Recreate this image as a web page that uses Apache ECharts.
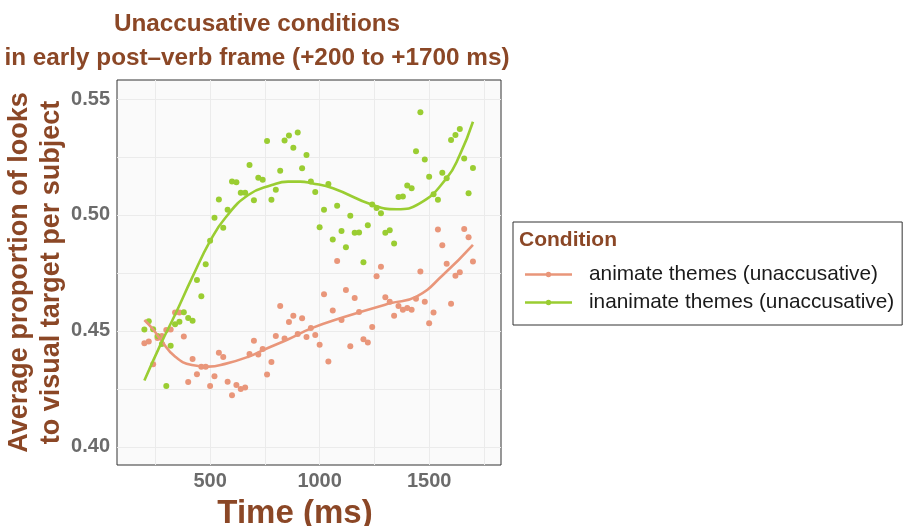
<!DOCTYPE html>
<html><head><meta charset="utf-8">
<script src="https://cdn.jsdelivr.net/npm/echarts@6/dist/echarts.min.js"></script>
<style>html,body{margin:0;padding:0;background:#fff}#c{width:905px;height:526px}</style>
</head><body><div id="c"></div>
<script>
const times = [200,220,240,260,280,300,320,340,360,380,400,420,440,460,480,500,520,540,560,580,
600,620,640,660,680,700,720,740,760,780,800,820,840,860,880,900,920,940,960,980,
1000,1020,1040,1060,1080,1100,1120,1140,1160,1180,1200,1220,1240,1260,1280,1300,1320,1340,1360,1380,
1400,1420,1440,1460,1480,1500,1520,1540,1560,1580,1600,1620,1640,1660,1680,1700];
const animateVals = [0.4447,0.4454,0.4356,0.4470,0.4478,0.4504,0.4506,0.4579,0.4579,0.4476,
0.4280,0.4379,0.4313,0.4346,0.4346,0.4263,0.4305,0.4406,0.4388,0.4281,
0.4223,0.4267,0.4250,0.4256,0.4401,0.4458,0.4398,0.4422,0.4312,0.4366,
0.4478,0.4608,0.4467,0.4539,0.4565,0.4487,0.4555,0.4474,0.4513,0.4483,
0.4440,0.4658,0.4368,0.4588,0.4802,0.4547,0.4677,0.4434,0.4642,0.4582,
0.4464,0.4450,0.4517,0.4736,0.4777,0.4645,0.4626,0.4565,0.4608,0.4591,
0.4599,0.4591,0.4639,0.4756,0.4626,0.4533,0.4579,0.4937,0.4869,0.4790,
0.4617,0.4738,0.4753,0.4940,0.4904,0.4799];
const inanimateVals = [0.4506,0.4542,0.4507,0.4478,0.4444,0.4263,0.4436,0.4529,0.4540,0.4581,
0.4556,0.4544,0.4720,0.4650,0.4788,0.4889,0.4988,0.5067,0.4945,0.5023,
0.5144,0.5141,0.5096,0.5096,0.5216,0.5064,0.5160,0.5152,0.5319,0.5066,
0.5109,0.5191,0.5321,0.5343,0.5290,0.5356,0.5202,0.5259,0.5144,0.5099,
0.4947,0.5023,0.5134,0.4894,0.5040,0.4931,0.4861,0.4997,0.4923,0.4925,
0.4796,0.4956,0.5045,0.5030,0.5007,0.4923,0.4934,0.4877,0.5078,0.5080,
0.5127,0.5115,0.5275,0.5443,0.5239,0.5165,0.5089,0.5066,0.5182,0.5158,
0.5323,0.5345,0.5371,0.5243,0.5094,0.5203];
const animateFitTimes = [200,242,273,341,417,493,569,675,751,857,964,1108,1321,1442,1563,1700];
const animateFitVals = [0.4547,0.4504,0.4464,0.4389,0.4353,0.4346,0.4358,0.4389,0.4421,0.4464,0.4512,0.4559,0.4619,0.4648,0.4741,0.4871];
const inanimateFitTimes = [200,273,341,417,501,569,674,782,856,911,964,1061,1243,1351,1457,1579,1640,1700];
const inanimateFitVals = [0.4286,0.4440,0.4572,0.4728,0.4889,0.4987,0.5086,0.5129,0.5144,0.5144,0.5137,0.5115,0.5043,0.5025,0.5050,0.5158,0.5259,0.5402];
const xLabelValues = [500,1000,1500];
const xGridValues = [250,500,750,1000,1250,1500,1750];
const yLabelValues = [0.40,0.45,0.50,0.55];
const yGridValues = [0.40,0.425,0.45,0.475,0.50,0.525,0.55];
const animName = 'animate themes (unaccusative)';
const inanimName = 'inanimate themes (unaccusative)';

const FONT = '"Liberation Sans", Arial, Helvetica, sans-serif';
const sienna = '#8B4726';
const orange = '#E9967A';
const green = '#9ACD32';
const tickColor = '#6b6b6b';
const legendIcon = 'path://M0,1.5L47,1.5L47,3.9L0,3.9Z M20.8,2.7A2.7,2.7 0 1,1 26.2,2.7A2.7,2.7 0 1,1 20.8,2.7Z';

const zip = (a, b) => a.map((t, i) => [t, b[i]]);

const chart = echarts.init(document.getElementById('c'));
chart.setOption({
  animation: false,
  backgroundColor: '#ffffff',
  graphic: [
    { type: 'text', z: 100, x: 257, y: 7, style: { text: 'Unaccusative conditions\nin early post\u2013verb frame (+200 to +1700 ms)', textAlign: 'center', textVerticalAlign: 'top', fontFamily: FONT, fontWeight: 'bold', fontSize: 24.3, lineHeight: 34, fill: sienna } },
    { type: 'text', z: 100, x: 519, y: 240, style: { text: 'Condition', textAlign: 'left', textVerticalAlign: 'middle', fontFamily: FONT, fontWeight: 'bold', fontSize: 21, fill: sienna } }
  ],
  legend: {
    left: 513, top: 222, orient: 'vertical',
    padding: [42, 8, 12, 12],
    borderColor: '#333', borderWidth: 1,
    itemWidth: 47, itemHeight: 5.4, itemGap: 7,
    icon: legendIcon,
    textStyle: { fontFamily: FONT, fontSize: 20.8, lineHeight: 20, color: '#1a1a1a', padding: [0, 0, 0, 12] },
    data: [animName, inanimName],
    selectedMode: false
  },
  grid: { left: 117, top: 80, width: 384, height: 385, outerBoundsMode: 'none', containLabel: false, show: true, backgroundColor: '#FAFAFA', borderColor: '#333', borderWidth: 1 },
  xAxis: {
    type: 'value', min: 75, max: 1828,
    axisLine: { show: false },
    axisTick: { show: false, customValues: xGridValues },
    axisLabel: { customValues: xLabelValues, formatter: v => String(v), fontFamily: FONT, fontWeight: 'bold', fontSize: 20, color: tickColor, margin: 6 },
    splitLine: { show: true, lineStyle: { color: '#EBEBEB', width: 1 } },
    name: 'Time (ms)', nameLocation: 'middle', nameGap: 32,
    nameTextStyle: { fontFamily: FONT, fontWeight: 'bold', fontSize: 33, lineHeight: 33, color: sienna, padding: [0, 28, 0, 0] }
  },
  yAxis: {
    type: 'value', min: 0.3922, max: 0.5582,
    axisLine: { show: false },
    axisTick: { show: false, customValues: yGridValues },
    axisLabel: { customValues: yLabelValues, formatter: v => v.toFixed(2), fontFamily: FONT, fontWeight: 'bold', fontSize: 20, color: tickColor, margin: 7 },
    splitLine: { show: true, lineStyle: { color: '#EBEBEB', width: 1 } },
    name: 'Average proportion of looks\nto visual target per subject', nameLocation: 'middle', nameRotate: 90, nameGap: 45,
    nameTextStyle: { fontFamily: FONT, fontWeight: 'bold', fontSize: 27, lineHeight: 32, color: sienna }
  },
  series: [
    { type: 'line', name: animName, data: zip(animateFitTimes, animateFitVals), smooth: 0.5, symbol: 'circle', showSymbol: false, lineStyle: { width: 2.6, color: orange }, itemStyle: { color: orange }, z: 3, silent: true },
    { type: 'line', name: inanimName, data: zip(inanimateFitTimes, inanimateFitVals), smooth: 0.5, symbol: 'circle', showSymbol: false, lineStyle: { width: 2.6, color: green }, itemStyle: { color: green }, z: 3, silent: true },
    { type: 'scatter', name: animName, data: zip(times, animateVals), symbolSize: 6, itemStyle: { color: orange, opacity: 1 }, z: 2, silent: true },
    { type: 'scatter', name: inanimName, data: zip(times, inanimateVals), symbolSize: 6, itemStyle: { color: green, opacity: 1 }, z: 2, silent: true }
  ]
});
</script>
</body></html>
